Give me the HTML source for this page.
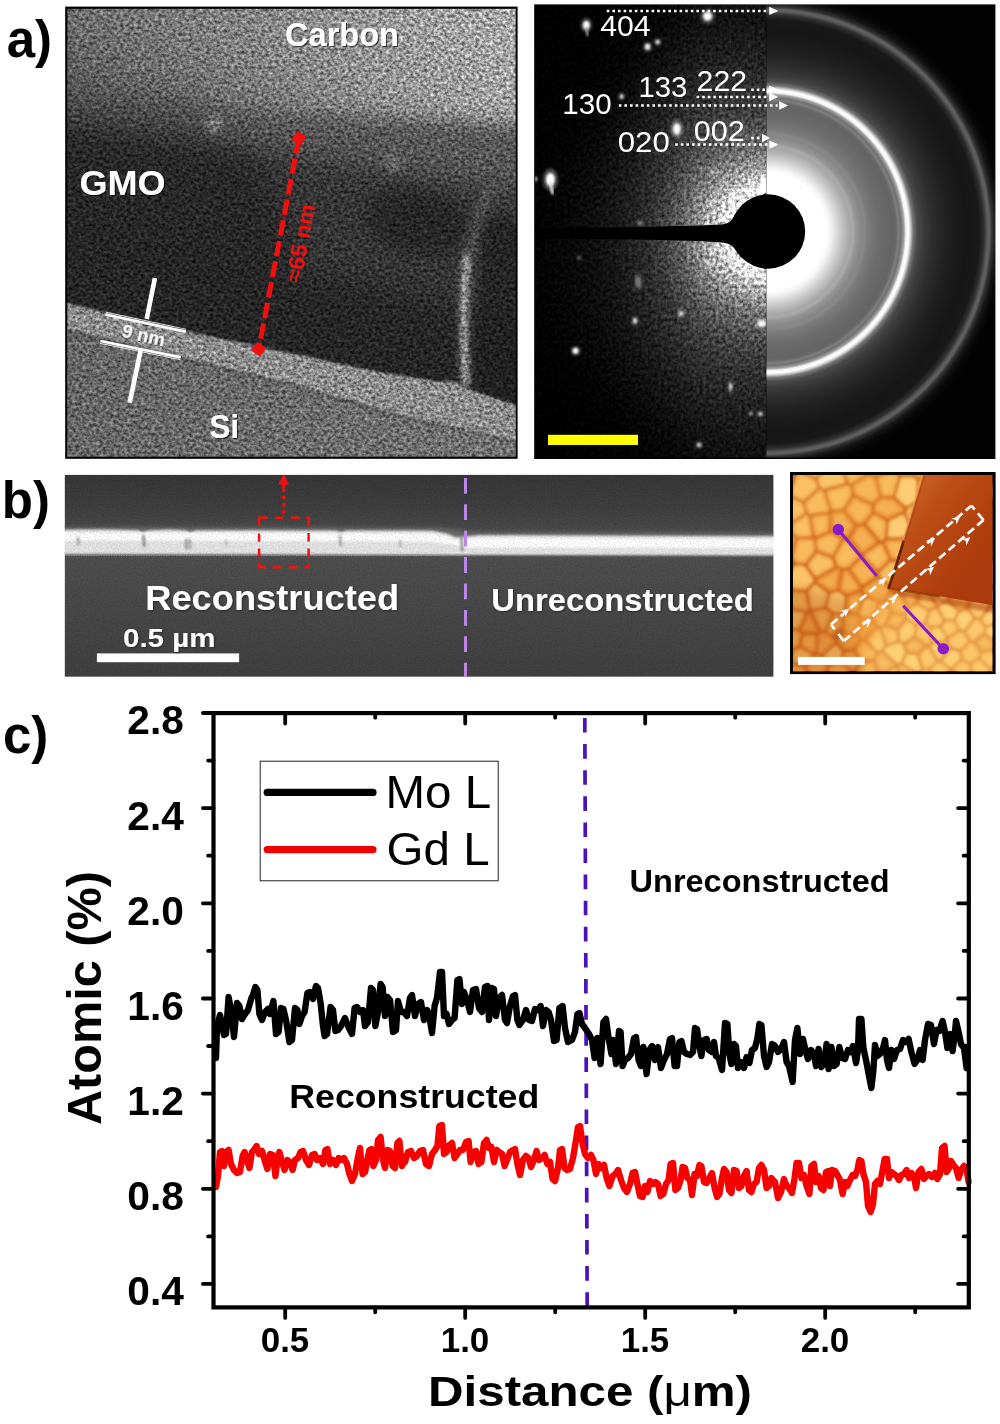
<!DOCTYPE html>
<html lang="en"><head><meta charset="utf-8"><title>Figure</title>
<style>html,body{margin:0;padding:0;background:#fff}body{width:1000px;height:1424px;overflow:hidden}svg text{white-space:pre}</style>
</head><body>
<svg width="1000" height="1424" viewBox="0 0 1000 1424" style="display:block">
<defs><clipPath id="temclip"><rect x="67.2" y="8.6" width="448.59999999999997" height="448.2"/></clipPath>
<filter id="temgrain" filterUnits="userSpaceOnUse" x="67.2" y="8.6" width="448.59999999999997" height="448.2" color-interpolation-filters="sRGB">
<feTurbulence type="fractalNoise" baseFrequency="0.29 0.33" numOctaves="3" seed="7" result="n"/>
<feColorMatrix in="n" type="matrix" values="1 0 0 0 0 1 0 0 0 0 1 0 0 0 0 0 0 0 0 1" result="g0"/><feGaussianBlur in="g0" stdDeviation="0.3" result="g"/>
<feComposite in="SourceGraphic" in2="g" operator="arithmetic" k1="1.32" k2="0.33999999999999997" k3="0.14" k4="-0.07"/>
</filter>
<filter id="tb0" filterUnits="userSpaceOnUse" x="0" y="-40" width="600" height="560" color-interpolation-filters="sRGB"><feGaussianBlur stdDeviation="0.8"/></filter>
<filter id="tb1" filterUnits="userSpaceOnUse" x="0" y="-40" width="600" height="560" color-interpolation-filters="sRGB"><feGaussianBlur stdDeviation="2.2"/></filter>
<filter id="tb2" filterUnits="userSpaceOnUse" x="0" y="-40" width="600" height="560" color-interpolation-filters="sRGB"><feGaussianBlur stdDeviation="4"/></filter>
<filter id="tb3" filterUnits="userSpaceOnUse" x="0" y="-40" width="600" height="560" color-interpolation-filters="sRGB"><feGaussianBlur stdDeviation="8"/></filter>
<filter id="tb4" filterUnits="userSpaceOnUse" x="0" y="-40" width="600" height="560" color-interpolation-filters="sRGB"><feGaussianBlur stdDeviation="14"/></filter>
<linearGradient id="carb" gradientUnits="userSpaceOnUse" x1="67" y1="0" x2="516" y2="0"><stop offset="0" stop-color="#6e6e6e"/><stop offset="0.4" stop-color="#868686"/><stop offset="0.75" stop-color="#9c9c9c"/><stop offset="1" stop-color="#a8a8a8"/></linearGradient>
<linearGradient id="carbshade" gradientUnits="userSpaceOnUse" x1="300" y1="0" x2="275" y2="130"><stop offset="0" stop-color="#000" stop-opacity="0"/><stop offset="0.5" stop-color="#000" stop-opacity="0.04"/><stop offset="1" stop-color="#000" stop-opacity="0.2"/></linearGradient>
<linearGradient id="sig" gradientUnits="userSpaceOnUse" x1="60" y1="380" x2="520" y2="460"><stop offset="0" stop-color="#666"/><stop offset="1" stop-color="#727272"/></linearGradient>
<filter id="tsh" x="-10%" y="-20%" width="120%" height="150%"><feDropShadow dx="1.1" dy="1.1" stdDeviation="0.7" flood-color="#000" flood-opacity="0.65"/></filter>
<clipPath id="dfl"><rect x="535.2" y="5.0" width="231.0" height="452.8"/></clipPath>
<clipPath id="dfr"><rect x="766.2" y="5.0" width="228.79999999999995" height="452.8"/></clipPath>
<filter id="dfgrain" filterUnits="userSpaceOnUse" x="535.2" y="5.0" width="231.0" height="452.8" color-interpolation-filters="sRGB">
<feTurbulence type="fractalNoise" baseFrequency="0.31 0.27" numOctaves="3" seed="11" result="n"/>
<feColorMatrix in="n" type="matrix" values="1 0 0 0 0 1 0 0 0 0 1 0 0 0 0 0 0 0 0 1" result="g0"/><feGaussianBlur in="g0" stdDeviation="0.3" result="g"/>
<feComposite in="SourceGraphic" in2="g" operator="arithmetic" k1="1.5" k2="0.25" k3="0.07" k4="-0.035"/>
</filter>
<linearGradient id="dleft" gradientUnits="userSpaceOnUse" x1="535" y1="0" x2="700" y2="0"><stop offset="0" stop-color="#000" stop-opacity="0.8"/><stop offset="0.45" stop-color="#000" stop-opacity="0.5"/><stop offset="1" stop-color="#000" stop-opacity="0"/></linearGradient>
<radialGradient id="dglow" gradientUnits="userSpaceOnUse" cx="767.0" cy="231.6" r="300"><stop offset="0.1267" stop-color="#ffffff"/><stop offset="0.1533" stop-color="#e4e4e4"/><stop offset="0.1867" stop-color="#b8b8b8"/><stop offset="0.2333" stop-color="#8e8e8e"/><stop offset="0.2833" stop-color="#6c6c6c"/><stop offset="0.3333" stop-color="#565656"/><stop offset="0.4000" stop-color="#404040"/><stop offset="0.4833" stop-color="#303030"/><stop offset="0.5833" stop-color="#212121"/><stop offset="0.7000" stop-color="#151515"/><stop offset="0.8500" stop-color="#0a0a0a"/><stop offset="1.0000" stop-color="#050505"/></radialGradient>
<radialGradient id="dring" gradientUnits="userSpaceOnUse" cx="767.0" cy="231.6" r="240"><stop offset="0.0000" stop-color="#000"/><stop offset="0.1583" stop-color="#fff"/><stop offset="0.2458" stop-color="#ffffff"/><stop offset="0.2667" stop-color="#f2f2f2"/><stop offset="0.2917" stop-color="#d8d8d8"/><stop offset="0.3208" stop-color="#bcbcbc"/><stop offset="0.3458" stop-color="#a6a6a6"/><stop offset="0.3583" stop-color="#a9a9a9"/><stop offset="0.3708" stop-color="#969696"/><stop offset="0.3958" stop-color="#868686"/><stop offset="0.4083" stop-color="#888888"/><stop offset="0.4208" stop-color="#7c7c7c"/><stop offset="0.4500" stop-color="#727272"/><stop offset="0.4708" stop-color="#6c6c6c"/><stop offset="0.5000" stop-color="#686868"/><stop offset="0.5250" stop-color="#646464"/><stop offset="0.5375" stop-color="#686868"/><stop offset="0.5479" stop-color="#7e7e7e"/><stop offset="0.5583" stop-color="#707070"/><stop offset="0.5708" stop-color="#a0a0a0"/><stop offset="0.5792" stop-color="#f4f4f4"/><stop offset="0.5896" stop-color="#ffffff"/><stop offset="0.5979" stop-color="#d0d0d0"/><stop offset="0.6083" stop-color="#787878"/><stop offset="0.6250" stop-color="#4c4c4c"/><stop offset="0.6500" stop-color="#3c3c3c"/><stop offset="0.6875" stop-color="#2e2e2e"/><stop offset="0.7500" stop-color="#202020"/><stop offset="0.8333" stop-color="#161616"/><stop offset="0.8833" stop-color="#181818"/><stop offset="0.9042" stop-color="#303030"/><stop offset="0.9187" stop-color="#5c5c5c"/><stop offset="0.9271" stop-color="#606060"/><stop offset="0.9375" stop-color="#343434"/><stop offset="0.9542" stop-color="#161616"/><stop offset="0.9750" stop-color="#080808"/><stop offset="1.0000" stop-color="#020202"/></radialGradient>
<filter id="sp1" x="-50%" y="-50%" width="200%" height="200%" color-interpolation-filters="sRGB"><feGaussianBlur stdDeviation="0.9"/></filter>
<filter id="sp2" x="-50%" y="-50%" width="200%" height="200%" color-interpolation-filters="sRGB"><feGaussianBlur stdDeviation="1.8"/></filter>
<filter id="sp3" x="-50%" y="-50%" width="200%" height="200%" color-interpolation-filters="sRGB"><feGaussianBlur stdDeviation="22"/></filter>
<clipPath id="semclip"><rect x="64.6" y="474.7" width="709.0" height="202.09999999999997"/></clipPath>
<filter id="semgrain" filterUnits="userSpaceOnUse" x="64.6" y="474.7" width="709.0" height="202.09999999999997" color-interpolation-filters="sRGB">
<feTurbulence type="fractalNoise" baseFrequency="0.61 0.67" numOctaves="2" seed="5" result="n"/>
<feColorMatrix in="n" type="matrix" values="1 0 0 0 0 1 0 0 0 0 1 0 0 0 0 0 0 0 0 1" result="g0"/>
<feComposite in="SourceGraphic" in2="g0" operator="arithmetic" k1="0.18" k2="0.91" k3="0.025" k4="-0.0125"/>
</filter>
<linearGradient id="semg" gradientUnits="userSpaceOnUse" x1="0" y1="474.7" x2="0" y2="676.8"><stop offset="0" stop-color="#363636"/><stop offset="0.12" stop-color="#3b3b3b"/><stop offset="0.22" stop-color="#424242"/><stop offset="0.3" stop-color="#4a4a4a"/><stop offset="0.41" stop-color="#4c4c4c"/><stop offset="0.6" stop-color="#484848"/><stop offset="1" stop-color="#3e3e3e"/></linearGradient>
<filter id="sb1" filterUnits="userSpaceOnUse" x="0" y="460" width="800" height="230" color-interpolation-filters="sRGB"><feGaussianBlur stdDeviation="1.0"/></filter>
<filter id="sb2" filterUnits="userSpaceOnUse" x="0" y="460" width="800" height="230" color-interpolation-filters="sRGB"><feGaussianBlur stdDeviation="2.2"/></filter>
<filter id="ssh" x="-10%" y="-20%" width="120%" height="150%"><feDropShadow dx="0.8" dy="0.8" stdDeviation="0.8" flood-color="#000" flood-opacity="0.5"/></filter>
<clipPath id="afmclip"><rect x="793.0" y="474.9" width="199.39999999999998" height="196.30000000000007"/></clipPath>
<filter id="ab1" filterUnits="userSpaceOnUse" x="770" y="450" width="250" height="250" color-interpolation-filters="sRGB"><feGaussianBlur stdDeviation="1.5"/></filter>
<filter id="ab2" filterUnits="userSpaceOnUse" x="770" y="450" width="250" height="250" color-interpolation-filters="sRGB"><feGaussianBlur stdDeviation="0.7"/></filter>
<filter id="ab3" filterUnits="userSpaceOnUse" x="770" y="450" width="250" height="250" color-interpolation-filters="sRGB"><feGaussianBlur stdDeviation="5"/></filter>
<linearGradient id="wedge" gradientUnits="userSpaceOnUse" x1="900" y1="500" x2="985" y2="560"><stop offset="0" stop-color="#ca6226"/><stop offset="0.3" stop-color="#bd4e16"/><stop offset="0.7" stop-color="#b3420f"/><stop offset="1" stop-color="#ab3a0c"/></linearGradient></defs>
<rect width="1000" height="1424" fill="#fff"/>
<rect x="65.2" y="6.6" width="452.4" height="452.2" fill="#000"/>
<g clip-path="url(#temclip)">
<g filter="url(#temgrain)">
<rect x="67.2" y="8.6" width="448.59999999999997" height="448.2" fill="url(#carb)"/>
<rect x="67.2" y="8.6" width="448.59999999999997" height="448.2" fill="url(#carbshade)"/>
<path d="M20 86 L66 91 L290 114 L560 127 L560 520 L20 520Z" fill="#585858" filter="url(#tb3)"/>
<path d="M20 90 L66 95 L200 108 L200 520 L20 520Z" fill="#4a4a4a" filter="url(#tb4)" opacity="0.8"/>
<path d="M20 116 L66 122 L290 152 L420 175 L560 196 L560 520 L20 520Z" fill="#363636" filter="url(#tb4)"/>
<ellipse cx="418" cy="222" rx="52" ry="32" fill="#181818" opacity="0.48" filter="url(#tb3)" transform="rotate(12 418 222)"/>
<path d="M10 118 L250 150 L300 250 L250 340 L10 300Z" fill="#1c1c1c" opacity="0.5" filter="url(#tb4)"/>
<path d="M20 205 L250 262 L400 292 L560 330 L560 520 L20 520Z" fill="#262626" filter="url(#tb4)" opacity="0.95"/>
<path d="M482 215 L560 228 L560 420 L476 395Z" fill="#202020" opacity="0.75" filter="url(#tb2)"/>
<path d="M40 296.5 L66 303 L185 331 L300 355 L376 371.6 L440 382 L452 381 L468 389 L515 405 L560 421 L560 520 L40 520Z" fill="#8c8c8c" filter="url(#tb0)"/>
<path d="M40 322 L66 328.5 L300 386 L400 414.8 L515 441 L560 451 L560 520 L40 520Z" fill="url(#sig)" filter="url(#tb0)"/>
<path d="M40 323.5 L66 330 L300 387.5 L400 416.3 L515 442.5 L560 452.5" fill="none" stroke="#3a3a3a" stroke-width="2.8" stroke-dasharray="2.5 2.5" filter="url(#tb0)" opacity="0.8"/>
<path d="M466 386 C463 340 462 300 467 262 C472 235 480 212 490 192" fill="none" stroke="#808080" stroke-width="12" stroke-linecap="round" filter="url(#tb2)" opacity="0.32"/>
<path d="M465.5 382 C463.5 345 463.5 305 466.5 258" fill="none" stroke="#b8b8b8" stroke-width="7.5" stroke-linecap="round" filter="url(#tb1)" opacity="0.7"/>
<circle cx="214" cy="124" r="7" fill="#9a9a9a" filter="url(#tb2)" opacity="0.8"/>
<circle cx="393" cy="163" r="7" fill="#8c8c8c" filter="url(#tb2)" opacity="0.7"/>
<circle cx="143" cy="100" r="4" fill="#777" filter="url(#tb1)" opacity="0.5"/>
</g>
<g fill="#fff" font-family="Liberation Sans, Arial, Helvetica, sans-serif" font-weight="700" filter="url(#tsh)">
<text x="285" y="45.6" font-size="33" textLength="114" lengthAdjust="spacingAndGlyphs">Carbon</text>
<text x="79.4" y="195" font-size="35" textLength="86" lengthAdjust="spacingAndGlyphs">GMO</text>
<text x="209.2" y="437.6" font-size="32.5" textLength="30" lengthAdjust="spacingAndGlyphs">Si</text>
</g>
<g stroke="#fff" fill="none">
<path d="M154.9 278 L146.7 319 M140.9 349 L129.7 402.8" stroke-width="4.6"/>
<path d="M105.4 314.5 L185.7 331.6 M100.4 341 L180.7 357.4" stroke-width="2.7"/>
<path d="M105.9 312.2 L186.2 329.3 M99.9 343.3 L180.2 359.7" stroke-width="0.9" opacity="0.9"/>
</g>
<text transform="translate(121 336.6) rotate(13.2)" fill="#fff" font-family="Liberation Sans, Arial, Helvetica, sans-serif" font-weight="700" font-size="18.4" textLength="43.5" lengthAdjust="spacingAndGlyphs" filter="url(#tsh)">9 nm</text>
<g fill="#f01010" stroke="none">
<path d="M298.9 138.3 L258.7 349.3" stroke="#f01010" stroke-width="5" stroke-dasharray="15.6 5.4" stroke-dashoffset="0.5" fill="none"/>
<rect x="293.5" y="132.9" width="10.8" height="10.8" transform="rotate(35 298.9 138.3)"/>
<rect x="253.29999999999998" y="343.90000000000003" width="10.8" height="10.8" transform="rotate(35 258.7 349.3)"/>
<text transform="translate(300.8 283.2) rotate(-79.2)" font-family="Liberation Sans, Arial, Helvetica, sans-serif" font-weight="700" font-size="22.5" textLength="79" lengthAdjust="spacingAndGlyphs">≈65 nm</text>
</g>
</g>
<rect x="534.2" y="4.4" width="461.2" height="454.6" fill="#000"/>
<g clip-path="url(#dfl)">
<g filter="url(#dfgrain)">
<rect x="535.2" y="5.0" width="231.0" height="452.8" fill="url(#dglow)"/>
<rect x="535.2" y="5.0" width="170" height="452.8" fill="url(#dleft)"/>
<path d="M520 -10 L690 -10 L600 130 L520 200Z" fill="#000" opacity="0.55" filter="url(#sp3)"/>
<path d="M520 470 L520 330 L600 380 L700 470Z" fill="#000" opacity="0.6" filter="url(#sp3)"/>
</g>
<ellipse cx="586.4" cy="25.2" rx="5.4" ry="7.1" fill="#fff" opacity="0.30" filter="url(#sp2)"/>
<ellipse cx="586.4" cy="25.2" rx="3.2" ry="4.2" fill="#fff" opacity="1" filter="url(#sp1)"/>
<ellipse cx="707.6" cy="16.3" rx="7.1" ry="7.1" fill="#fff" opacity="0.30" filter="url(#sp2)"/>
<ellipse cx="707.6" cy="16.3" rx="4.2" ry="4.2" fill="#fff" opacity="1" filter="url(#sp1)"/>
<ellipse cx="647.6" cy="46.8" rx="4.4" ry="5.1" fill="#fff" opacity="0.27" filter="url(#sp2)"/>
<ellipse cx="647.6" cy="46.8" rx="2.6" ry="3" fill="#fff" opacity="0.9" filter="url(#sp1)"/>
<ellipse cx="657.7" cy="42" rx="3.7" ry="3.7" fill="#fff" opacity="0.24" filter="url(#sp2)"/>
<ellipse cx="657.7" cy="42" rx="2.2" ry="2.2" fill="#fff" opacity="0.8" filter="url(#sp1)"/>
<ellipse cx="621.7" cy="96.5" rx="3.1" ry="3.7" fill="#fff" opacity="0.24" filter="url(#sp2)"/>
<ellipse cx="621.7" cy="96.5" rx="1.8" ry="2.2" fill="#fff" opacity="0.8" filter="url(#sp1)"/>
<ellipse cx="676.9" cy="129" rx="6.1" ry="9.5" fill="#fff" opacity="0.30" filter="url(#sp2)"/>
<ellipse cx="676.9" cy="129" rx="3.6" ry="5.6" fill="#fff" opacity="1" filter="url(#sp1)"/>
<ellipse cx="550.4" cy="179.5" rx="7.5" ry="11.2" fill="#fff" opacity="0.30" filter="url(#sp2)"/>
<ellipse cx="550.4" cy="179.5" rx="4.4" ry="6.6" fill="#fff" opacity="1" filter="url(#sp1)"/>
<ellipse cx="712.4" cy="172.3" rx="2.7" ry="2.7" fill="#fff" opacity="0.24" filter="url(#sp2)"/>
<ellipse cx="712.4" cy="172.3" rx="1.6" ry="1.6" fill="#fff" opacity="0.8" filter="url(#sp1)"/>
<ellipse cx="535.5" cy="179" rx="2.5" ry="3.4" fill="#fff" opacity="0.21" filter="url(#sp2)"/>
<ellipse cx="535.5" cy="179" rx="1.5" ry="2" fill="#fff" opacity="0.7" filter="url(#sp1)"/>
<ellipse cx="640" cy="223" rx="3.1" ry="3.1" fill="#fff" opacity="0.15" filter="url(#sp2)"/>
<ellipse cx="640" cy="223" rx="1.8" ry="1.8" fill="#fff" opacity="0.5" filter="url(#sp1)"/>
<ellipse cx="575.6" cy="350.8" rx="4.8" ry="4.8" fill="#fff" opacity="0.30" filter="url(#sp2)"/>
<ellipse cx="575.6" cy="350.8" rx="2.8" ry="2.8" fill="#fff" opacity="1" filter="url(#sp1)"/>
<ellipse cx="635" cy="320.8" rx="3.4" ry="4.8" fill="#fff" opacity="0.24" filter="url(#sp2)"/>
<ellipse cx="635" cy="320.8" rx="2" ry="2.8" fill="#fff" opacity="0.8" filter="url(#sp1)"/>
<ellipse cx="681" cy="313.6" rx="3.1" ry="4.1" fill="#fff" opacity="0.27" filter="url(#sp2)"/>
<ellipse cx="681" cy="313.6" rx="1.8" ry="2.4" fill="#fff" opacity="0.9" filter="url(#sp1)"/>
<ellipse cx="708" cy="263" rx="2.7" ry="3.7" fill="#fff" opacity="0.24" filter="url(#sp2)"/>
<ellipse cx="708" cy="263" rx="1.6" ry="2.2" fill="#fff" opacity="0.8" filter="url(#sp1)"/>
<ellipse cx="761.8" cy="323.7" rx="6.8" ry="5.1" fill="#fff" opacity="0.30" filter="url(#sp2)"/>
<ellipse cx="761.8" cy="323.7" rx="4" ry="3" fill="#fff" opacity="1" filter="url(#sp1)"/>
<ellipse cx="730.6" cy="386.8" rx="2.5" ry="6.8" fill="#fff" opacity="0.21" filter="url(#sp2)"/>
<ellipse cx="730.6" cy="386.8" rx="1.5" ry="4" fill="#fff" opacity="0.7" filter="url(#sp1)"/>
<ellipse cx="699" cy="445" rx="3.7" ry="3.7" fill="#fff" opacity="0.21" filter="url(#sp2)"/>
<ellipse cx="699" cy="445" rx="2.2" ry="2.2" fill="#fff" opacity="0.7" filter="url(#sp1)"/>
<ellipse cx="760.4" cy="414" rx="3.4" ry="3.1" fill="#fff" opacity="0.24" filter="url(#sp2)"/>
<ellipse cx="760.4" cy="414" rx="2" ry="1.8" fill="#fff" opacity="0.8" filter="url(#sp1)"/>
<ellipse cx="751" cy="413.4" rx="2.7" ry="2.4" fill="#fff" opacity="0.18" filter="url(#sp2)"/>
<ellipse cx="751" cy="413.4" rx="1.6" ry="1.4" fill="#fff" opacity="0.6" filter="url(#sp1)"/>
<ellipse cx="579" cy="258" rx="3.4" ry="3.4" fill="#fff" opacity="0.07" filter="url(#sp2)"/>
<ellipse cx="579" cy="258" rx="2" ry="2" fill="#fff" opacity="0.25" filter="url(#sp1)"/>
<ellipse cx="638" cy="282" rx="5.1" ry="10.2" fill="#fff" opacity="0.09" filter="url(#sp2)"/>
<ellipse cx="638" cy="282" rx="3" ry="6" fill="#fff" opacity="0.3" filter="url(#sp1)"/>
<path d="M550.4 183 L552.5 193" stroke="#ddd" stroke-width="3" stroke-linecap="round" filter="url(#sp1)"/>
<path d="M586.4 28 L587.5 35" stroke="#999" stroke-width="2.4" stroke-linecap="round" filter="url(#sp1)"/>
<path d="M757 196 L762 176 L767 178 L767 196Z" fill="#fff" filter="url(#sp1)"/>
<path d="M530 228 L640 227 L700 225.6 L722 224.4 C729 223.6 732 221 735 214 L770 190 L770 272 L737 252 C733 246 730 243.4 722 242.6 L700 241 L640 239.6 L530 238.6Z" fill="#000"/>
</g>
<g clip-path="url(#dfr)">
<rect x="766.2" y="5.0" width="228.79999999999995" height="452.8" fill="url(#dring)"/>
</g>
<circle cx="768" cy="231.5" r="37.2" fill="#000"/>
<rect x="548" y="434.8" width="90" height="10.2" fill="#ffff00"/>
<g fill="#fff" font-family="Liberation Sans, Arial, Helvetica, sans-serif" font-size="29.5">
<text x="600.2" y="36" textLength="50.5" lengthAdjust="spacingAndGlyphs">404</text>
<text x="638.4" y="97.2" textLength="49" lengthAdjust="spacingAndGlyphs">133</text>
<text x="696.6" y="90.7" textLength="50.5" lengthAdjust="spacingAndGlyphs">222</text>
<text x="562.3" y="114" textLength="49.4" lengthAdjust="spacingAndGlyphs">130</text>
<text x="617.8" y="152.4" textLength="52" lengthAdjust="spacingAndGlyphs">020</text>
<text x="693.7" y="141.1" textLength="51" lengthAdjust="spacingAndGlyphs">002</text>
</g>
<path d="M606.8 10.9H767.7" stroke="#fff" stroke-width="2.5" stroke-dasharray="2.6 3" fill="none"/>
<path d="M769.2 6.7L778.4 10.9L769.2 15.100000000000001Z" fill="#fff"/>
<path d="M751.2 89.8H767.7" stroke="#fff" stroke-width="2.5" stroke-dasharray="2.6 3" fill="none"/>
<path d="M769.2 85.6L778.4 89.8L769.2 94.0Z" fill="#fff"/>
<path d="M696.6 97.0H767.7" stroke="#fff" stroke-width="2.5" stroke-dasharray="2.6 3" fill="none"/>
<path d="M769.2 92.8L778.4 97.0L769.2 101.2Z" fill="#fff"/>
<path d="M618.8 105.5H777.7" stroke="#fff" stroke-width="2.5" stroke-dasharray="2.6 3" fill="none"/>
<path d="M779.2 101.3L788 105.5L779.2 109.7Z" fill="#fff"/>
<path d="M751.2 138.0H760.5" stroke="#fff" stroke-width="2.5" stroke-dasharray="2.6 3" fill="none"/>
<path d="M762 133.8L770 138.0L762 142.2Z" fill="#fff"/>
<path d="M675.2 144.6H767.9" stroke="#fff" stroke-width="2.5" stroke-dasharray="2.6 3" fill="none"/>
<path d="M769.4 140.4L778.4 144.6L769.4 148.79999999999998Z" fill="#fff"/>
<g clip-path="url(#semclip)">
<g filter="url(#semgrain)">
<rect x="64.6" y="474.7" width="709.0" height="202.09999999999997" fill="url(#semg)"/>
<path d="M50 527 L440 527.5 L470 532 L790 533 L790 545 L50 545Z" fill="#808080" filter="url(#sb2)" opacity="0.55"/>
<path d="M50 530.3 L80 529.6 L112 529.4 L138 530.2 L143 532.2 L148 530.4 L170 529.6 L186 530.6 L190.5 532.6 L195 530.6 L250 530.2 L300 530.4 L336 530.6 L341 532.4 L346 530.6 L400 530.4 L432 530.8 L447 533.4 L456 537.2 L465 536.4 L480 535 L600 535.6 L790 536.2 L790 555.6 L465 555 L50 554.2Z" fill="#dedede" filter="url(#sb1)"/>
<path d="M50 532.6 L432 533.4 L447 536.4 L456 540 L465 539 L480 538 L790 539 L790 548 L465 547.4 L455 545 L430 541.4 L50 540.6Z" fill="#f8f8f8" filter="url(#sb1)"/>
<path d="M78 538 l0.6 6" stroke="#6c6c6c" stroke-width="2.8" stroke-linecap="round" filter="url(#sb1)" opacity="0.5"/>
<path d="M143.6 536 l0.6 10" stroke="#6c6c6c" stroke-width="2.8" stroke-linecap="round" filter="url(#sb1)" opacity="0.75"/>
<path d="M186 540 l0.6 8" stroke="#6c6c6c" stroke-width="2.8" stroke-linecap="round" filter="url(#sb1)" opacity="0.6"/>
<path d="M189.5 540 l0.6 8" stroke="#6c6c6c" stroke-width="2.8" stroke-linecap="round" filter="url(#sb1)" opacity="0.5"/>
<path d="M226 541 l0.6 4" stroke="#6c6c6c" stroke-width="2.8" stroke-linecap="round" filter="url(#sb1)" opacity="0.3"/>
<path d="M340 536 l0.6 9" stroke="#6c6c6c" stroke-width="2.8" stroke-linecap="round" filter="url(#sb1)" opacity="0.55"/>
<path d="M400 541 l0.6 5" stroke="#6c6c6c" stroke-width="2.8" stroke-linecap="round" filter="url(#sb1)" opacity="0.35"/>
<path d="M461.5 537 l0.6 13" stroke="#6c6c6c" stroke-width="2.8" stroke-linecap="round" filter="url(#sb1)" opacity="0.7"/>
<path d="M66 555.2 H462" stroke="#9a9a9a" stroke-width="1.6" stroke-dasharray="1.2 1.3" opacity="0.8"/>
</g>
<path d="M465.5 477.9V677" stroke="#bb86e6" stroke-width="3" stroke-dasharray="15.8 10.6" fill="none"/>
<rect x="96.9" y="653.4" width="142.2" height="8.8" fill="#fff"/>
<g fill="#fff" font-family="Liberation Sans, Arial, Helvetica, sans-serif" font-weight="700" filter="url(#ssh)">
<text x="145.2" y="610.3" font-size="35" textLength="254" lengthAdjust="spacingAndGlyphs">Reconstructed</text>
<text x="491.2" y="611" font-size="30.5" textLength="262.5" lengthAdjust="spacingAndGlyphs">Unreconstructed</text>
<text x="123" y="646.5" font-size="25.5" textLength="92.5" lengthAdjust="spacingAndGlyphs">0.5 µm</text>
</g>
<g stroke="#f01212" fill="none">
<path d="M259.1 526 V517.7 H268 M275.6 517.7 H283 M290.6 517.7 H299.6 M306.2 517.7 H308.6 V526.5 M308.6 533 V541.6 M308.6 548.6 V557.4 M308.6 563.6 V567.2 H304.4 M297.8 567.2 H288.4 M281.6 567.2 H272.6 M266.2 567.2 H259.1 V562.6 M259.1 556.8 V548.6 M259.1 541.8 V533.6" stroke-width="2.5"/>
<path d="M283.8 517.2 V488.6" stroke-width="3.4" stroke-dasharray="3.4 3.8" stroke-dashoffset="3.6"/>
<path d="M283.8 488 V484" stroke-width="3.4"/>
<path d="M278.3 484.6 L283.8 473.8 L289.3 484.6Z" fill="#f01212" stroke="none"/>
</g>
</g>
<rect x="790" y="472" width="205.6" height="202.1" fill="#000"/>
<g clip-path="url(#afmclip)">
<rect x="793.0" y="474.9" width="199.39999999999998" height="196.30000000000007" fill="#cf661f"/>
<g filter="url(#ab1)">
<path d="M990.1 585.0L991.0 586.1L992.3 586.4L1010.1 584.4L1011.5 583.7L1012.2 582.0L1012.2 565.9L1011.5 564.2L994.7 559.1L984.5 563.7L982.7 567.1L982.7 568.4ZM858.3 641.1L858.4 638.8L855.7 636.0L844.6 634.6L843.3 635.0L838.4 638.7L837.5 640.5L838.0 642.6L843.7 649.2L845.3 649.9L853.2 649.0ZM855.7 613.7L857.3 613.5L858.4 612.3L863.5 597.6L863.5 596.2L861.8 593.3L860.3 592.2L858.9 592.2L848.5 596.0L847.2 597.7L846.0 609.5L846.2 610.9L847.7 612.1ZM875.2 627.9L875.8 626.6L875.6 625.2L871.2 619.5L861.5 618.0L860.0 619.6L857.7 634.5L861.1 638.4L864.4 638.7ZM980.5 650.1L982.8 651.2L991.5 649.4L994.3 643.9L994.1 641.9L985.9 635.8L983.4 635.8L976.9 640.7L976.2 641.9L976.4 643.6ZM817.5 578.5L816.3 580.2L816.9 582.2L828.6 591.1L830.1 591.4L836.4 589.9L838.0 588.3L840.7 570.4L839.5 569.0L837.7 568.1L836.3 568.2ZM875.1 659.1L874.9 660.8L878.3 669.4L882.4 671.8L884.3 671.7L893.6 666.8L894.6 665.6L894.1 663.2L882.2 652.5L880.8 652.4L878.2 653.5ZM881.9 673.9L877.8 672.4L876.7 672.9L866.1 682.9L865.7 684.4L866.2 688.5L867.2 690.2L868.6 690.6L884.0 690.6L886.0 689.6L886.4 687.8L882.7 675.0ZM914.7 474.4L915.4 476.4L917.6 478.4L919.0 478.8L934.4 475.4L935.2 474.0L937.9 458.1L937.3 456.2L935.5 455.3L919.6 455.3L918.1 455.8L917.2 457.4ZM917.0 563.9L915.6 562.4L910.6 561.3L905.9 563.7L900.3 583.4L900.5 584.7L901.4 585.8L902.7 586.2L919.4 586.2L922.5 584.4L922.9 582.3ZM989.3 531.7L991.1 531.1L991.9 529.4L991.1 506.7L989.1 505.3L978.1 505.6L975.1 508.8L974.7 510.2L979.1 529.3L980.8 530.7ZM833.4 512.2L832.0 512.9L831.3 514.3L831.4 531.3L832.4 532.3L842.9 538.2L847.9 537.5L854.6 526.9L854.5 524.8L843.6 511.3L842.2 511.1ZM811.3 614.8L809.4 613.4L807.1 614.4L801.0 627.8L801.0 629.8L803.3 632.5L816.0 632.6L817.8 631.3L818.0 629.5ZM1009.9 528.7L1011.3 528.0L1012.0 526.5L1012.0 513.0L1011.6 511.6L1010.3 510.7L996.7 506.5L994.7 506.9L993.6 508.9L994.2 527.9L994.6 529.2L996.7 530.3ZM893.4 613.5L892.0 613.6L890.8 614.6L887.2 622.3L887.2 623.7L888.5 625.3L897.0 627.6L898.2 626.9L904.4 619.8L904.8 617.8L903.3 616.1ZM916.4 652.6L918.1 652.2L923.0 647.8L923.8 645.7L923.0 644.3L916.1 639.0L914.3 638.5L906.1 643.4L905.2 645.7L906.8 650.2L907.8 651.2ZM902.7 588.6L900.7 589.7L900.4 591.7L908.2 605.3L909.1 606.0L910.6 606.1L915.6 603.6L916.3 602.3L918.2 591.4L917.7 589.5L916.1 588.6ZM775.4 537.4L774.2 538.2L773.7 539.5L773.7 548.4L774.3 549.7L788.6 555.3L790.8 554.8L791.5 553.6L795.7 539.4L795.2 537.2L791.4 533.3L789.8 532.8Z" fill="#ea9236"/>
<path d="M931.4 552.4L932.6 550.9L932.5 549.3L922.4 533.4L912.6 532.2L911.5 532.8L907.3 538.0L907.0 539.8L910.8 557.4L912.0 559.0L917.6 560.0ZM814.3 541.0L813.5 539.5L812.1 539.0L799.2 538.9L797.5 539.7L792.5 556.3L792.8 557.6L795.8 562.2L803.9 563.7L805.9 562.8L815.3 550.8ZM882.9 495.9L892.8 496.0L893.8 494.8L898.7 477.5L897.9 475.5L893.2 472.2L892.0 471.9L878.9 477.1L878.0 477.9L877.6 479.3L881.5 495.1ZM849.0 540.6L847.0 539.7L844.5 540.1L843.5 540.8L834.3 556.9L834.5 558.4L837.7 565.7L842.0 568.1L848.3 567.4L859.2 557.1L859.9 555.9L859.5 553.9ZM800.8 635.5L800.5 633.7L798.0 630.7L790.4 630.1L789.1 631.2L784.1 641.4L784.0 643.4L791.0 648.6L793.1 648.7L798.7 645.2ZM975.6 679.3L974.9 677.3L971.1 675.1L963.1 678.6L962.3 679.8L960.5 687.8L960.9 689.6L962.6 690.7L973.5 690.3L974.5 688.8ZM794.0 591.7L792.0 592.6L787.5 599.8L787.6 601.2L790.7 607.2L792.3 608.2L805.6 610.6L807.4 610.2L808.5 608.1L805.5 593.1L804.0 592.2ZM831.2 615.6L831.4 614.2L830.8 613.0L825.2 609.1L815.0 610.8L813.9 611.5L813.3 612.7L813.5 614.1L820.4 629.2L822.2 630.6L823.8 630.4L824.8 629.4ZM840.0 455.4L838.1 456.3L837.7 458.6L848.9 483.0L850.4 483.8L852.0 483.6L866.8 473.9L867.2 472.1L864.6 457.4L863.6 455.8L862.2 455.4ZM831.4 508.5L832.2 509.6L833.8 510.1L842.2 509.0L843.6 508.2L851.8 495.1L850.2 487.0L849.2 485.6L846.6 485.0L827.8 490.5L826.6 491.4L826.2 493.3ZM865.1 554.1L864.2 555.7L864.7 557.6L876.1 569.1L877.4 569.8L879.5 569.1L888.0 560.7L888.7 559.4L888.5 558.0L882.7 544.9L881.1 543.5L879.1 543.9ZM969.3 662.3L971.6 662.3L978.2 657.9L979.0 656.8L979.7 653.7L979.4 652.1L973.8 643.3L972.2 642.2L970.0 642.8L962.2 650.6L961.5 652.1L963.0 658.4ZM821.1 489.8L819.7 489.6L818.5 490.0L805.1 502.5L804.9 503.9L807.2 512.1L809.4 514.1L810.8 514.3L827.4 512.0L829.2 510.7L829.3 508.8L823.4 491.8ZM888.9 643.8L897.4 640.9L898.0 639.4L896.8 631.8L896.2 630.6L885.1 626.7L882.7 627.3L882.1 629.6L886.8 643.2ZM831.4 533.4L829.5 533.2L817.4 538.7L816.3 539.6L816.0 540.9L817.1 549.2L817.8 550.4L831.5 555.7L833.5 554.5L841.2 540.4L840.2 538.4ZM854.5 652.8L852.4 651.5L845.1 652.3L844.0 653.6L842.3 660.0L843.1 662.2L850.9 669.3L852.2 669.9L854.3 669.1L859.0 662.0L858.7 660.6ZM905.7 686.8L905.3 689.0L907.1 690.7L920.1 690.7L921.6 690.2L922.4 687.9L918.8 675.5L917.1 674.6L915.4 675.1ZM934.8 604.3L925.1 587.3L923.7 586.9L921.3 588.5L918.9 602.9L920.0 604.5L928.1 608.9L929.5 609.1L934.0 606.7ZM879.6 539.9L880.7 540.6L882.1 540.6L885.2 538.0L886.4 521.7L885.2 520.1L875.2 515.0L873.6 514.8L872.4 515.5L866.9 522.4L866.4 524.4ZM954.3 667.3L953.5 669.0L954.0 670.5L961.4 676.7L963.0 676.7L968.9 673.9L970.1 672.6L969.6 664.7L963.2 660.7L960.9 661.1Z" fill="#f3ac4c"/>
<path d="M957.4 509.3L959.6 510.4L971.8 508.1L975.3 504.4L975.3 502.6L969.0 487.6L967.7 486.3L956.4 485.1L950.8 487.7L949.8 488.9L948.1 494.3L948.3 495.7ZM994.8 532.6L993.2 533.5L992.7 535.0L995.5 556.6L996.9 557.7L1008.9 561.3L1010.7 561.1L1012.0 559.0L1011.7 532.0L1009.5 530.8ZM939.1 662.1L937.7 662.5L931.7 667.8L930.9 669.7L938.3 682.9L940.3 683.9L942.3 682.8L948.7 670.0L947.8 668.1L940.6 662.5ZM895.4 587.1L897.2 585.6L902.7 565.2L902.2 563.9L901.1 563.2L891.2 561.4L889.9 562.0L879.7 572.3L879.3 574.9L880.1 576.4L892.5 586.9ZM818.7 553.2L817.3 553.1L816.1 553.7L808.2 563.5L807.7 564.8L808.1 566.4L814.2 575.4L816.0 576.4L817.4 576.2L833.3 567.3L834.5 565.4L831.4 558.3ZM976.2 676.0L977.7 676.3L987.2 674.6L988.9 672.9L989.2 670.3L988.7 669.1L980.9 660.7L979.6 659.9L977.8 660.3L972.5 663.8L971.7 665.1L972.1 672.9ZM790.5 520.4L791.8 521.0L793.2 520.8L804.8 513.3L805.2 511.5L802.6 503.1L788.9 496.4L774.8 501.7L773.9 503.3L774.5 505.7ZM929.7 629.1L929.0 627.4L924.4 624.1L918.5 625.5L917.2 627.3L916.0 634.9L916.3 636.3L926.9 644.3L928.7 643.9L929.7 642.4ZM906.0 511.5L906.1 513.0L912.0 528.2L913.4 529.6L923.1 530.5L932.5 520.0L932.6 518.6L929.0 506.5L919.1 502.7L917.3 502.8L907.4 508.4ZM970.7 639.3L972.0 640.2L973.9 640.1L983.6 632.6L984.4 626.7L979.5 620.4L976.0 619.6L974.4 620.2L966.2 630.6L966.2 632.9ZM815.4 480.4L814.2 479.2L802.5 473.4L801.0 473.5L797.3 475.4L796.3 476.7L790.9 492.7L791.1 494.7L801.9 500.4L804.2 500.3L817.4 488.2L817.7 486.3ZM839.4 684.1L838.7 682.3L827.7 673.7L825.7 674.0L821.1 677.7L820.4 678.8L820.7 688.5L821.3 689.7L822.4 690.4L837.8 690.3L839.2 688.7ZM938.5 625.4L940.3 624.4L942.4 621.2L942.7 619.5L937.5 610.2L936.4 609.3L935.1 609.2L930.1 612.2L926.9 622.3L927.6 623.4L931.0 626.0ZM910.7 474.9L912.2 474.4L913.1 473.1L915.2 458.2L914.6 456.4L912.8 455.7L895.6 455.7L894.1 456.3L893.2 458.2L893.5 468.8L894.1 470.3L900.4 474.8ZM956.5 630.9L957.5 629.7L957.4 628.1L954.5 622.3L953.2 621.3L945.7 621.5L942.2 626.1L942.4 628.0L946.3 634.9L947.6 635.8L949.4 635.6ZM929.4 649.0L928.0 647.9L926.1 648.2L919.5 654.6L923.0 666.8L924.7 668.2L929.0 667.7L935.1 662.4L935.8 661.2L935.7 659.6ZM808.9 517.2L807.7 515.5L805.7 515.3L793.0 523.6L792.1 531.0L797.0 536.4L798.3 536.8L809.6 536.8L811.5 535.6L811.8 534.0ZM949.5 638.5L948.5 639.7L948.5 641.1L951.3 646.8L959.0 649.4L961.0 648.7L967.7 642.1L968.2 640.8L967.9 639.4L963.5 633.1L960.6 631.8L958.9 632.2ZM997.1 661.7L997.7 660.5L997.5 658.9L992.2 651.7L982.7 653.1L981.2 654.4L980.6 657.1L981.0 658.4L989.3 667.2L991.6 667.0Z" fill="#f6b456"/>
<path d="M964.6 584.3L965.1 586.6L972.5 594.6L973.9 595.3L983.4 594.7L988.9 587.4L988.7 586.0L982.2 571.5L980.4 570.1L978.8 570.4L967.0 577.2ZM897.4 690.6L899.2 689.8L899.8 687.8L897.1 670.7L896.0 669.2L894.4 668.9L886.0 673.2L885.1 674.2L885.0 675.6L889.2 689.7L890.8 690.6ZM943.4 640.0L944.9 638.9L945.2 637.1L940.3 628.4L938.4 627.7L933.3 628.2L932.1 628.8L931.4 630.5L931.4 639.8L932.1 641.2L934.1 641.9ZM932.9 644.3L931.2 645.5L931.2 647.6L937.6 658.3L938.7 659.0L940.4 658.9L948.4 648.6L948.4 647.0L946.7 643.3L945.6 642.2L944.3 641.9ZM966.1 549.5L967.2 547.6L967.4 539.7L966.9 538.4L954.2 532.6L952.4 533.6L940.7 550.2L940.3 551.8L940.8 553.1L945.6 557.8L951.2 558.8ZM995.5 622.7L997.0 621.3L999.4 612.7L999.4 611.3L997.9 609.8L992.0 607.7L990.6 607.8L989.5 608.7L982.8 618.1L982.5 620.3L985.3 624.3L986.6 625.0ZM943.6 659.2L943.1 660.8L943.8 662.4L949.3 666.7L951.4 666.9L960.0 658.9L960.3 657.5L959.4 653.2L957.8 651.8L952.2 650.1L950.8 650.3ZM915.8 670.9L918.6 671.0L920.2 669.7L920.8 668.4L917.1 656.3L915.6 655.1L907.5 654.4L906.5 655.3L903.7 661.3L903.8 663.4L904.7 664.4ZM962.1 629.8L963.5 629.8L964.5 629.2L972.6 618.7L972.2 616.7L968.2 611.1L967.0 610.4L959.8 612.3L956.2 619.5L956.2 621.0L960.0 628.4ZM841.1 612.5L842.7 612.0L843.5 610.6L844.9 597.7L844.6 596.3L838.1 591.8L830.9 593.4L829.8 595.0L827.4 605.8L827.6 607.4L833.8 612.2ZM879.3 625.6L882.7 624.7L883.7 623.9L889.1 612.3L888.9 610.7L885.2 604.5L883.7 603.5L881.1 603.8L880.0 604.6L873.4 617.8L873.8 619.6L877.8 624.9ZM885.0 648.9L884.4 650.4L885.0 652.0L897.0 663.0L898.7 663.6L900.4 662.8L905.0 652.5L901.8 644.3L899.9 643.2L898.4 643.2L887.2 646.6ZM936.2 690.4L938.1 689.5L938.5 687.2L929.2 671.3L927.3 670.3L922.8 670.9L921.1 672.4L920.7 673.9L925.1 689.3L926.9 690.4ZM929.6 584.4L928.2 585.5L928.1 587.6L936.9 603.2L939.3 603.8L946.5 600.0L950.1 591.0L949.4 588.6L939.5 581.5ZM803.1 469.6L803.4 471.0L804.4 472.0L814.2 476.8L816.1 476.8L832.3 459.5L832.6 457.1L831.7 456.1L830.4 455.7L805.4 455.8L804.0 457.6ZM915.8 501.2L917.0 499.1L917.1 481.4L916.7 480.1L913.0 477.1L901.5 477.3L900.3 478.8L895.6 495.5L895.8 497.4L904.7 505.6L905.9 506.2L907.5 505.9ZM934.8 517.9L936.2 519.5L948.7 523.3L950.3 523.3L951.5 522.3L955.7 513.3L955.9 511.8L946.7 498.2L944.4 498.1L932.1 505.8L931.8 507.4ZM940.5 605.5L939.4 606.7L939.4 608.3L945.1 618.5L946.5 619.1L952.5 619.1L954.2 618.3L957.1 612.6L956.4 610.2L947.7 602.6L946.1 602.6ZM890.1 520.2L888.7 522.0L887.7 535.3L888.0 536.6L889.1 537.6L904.5 537.3L909.9 531.1L910.0 529.1L905.0 516.1L904.0 514.9L902.0 514.7ZM783.8 599.1L785.7 598.2L790.0 591.5L790.2 589.3L784.1 578.4L782.5 577.9L775.5 578.3L774.1 580.2L774.3 597.8L776.1 599.2ZM995.0 639.7L996.8 640.1L998.3 639.2L1002.1 630.6L1001.5 628.7L998.1 625.1L996.8 624.5L987.4 627.2L986.5 628.3L985.9 631.6L986.7 633.8ZM837.7 646.0L836.1 645.2L834.6 645.5L824.3 655.3L824.2 657.6L828.5 663.7L830.0 663.9L838.9 661.0L840.3 659.8L842.2 651.8ZM860.0 613.1L860.1 614.9L861.4 616.2L869.6 617.5L871.0 617.2L871.9 616.2L877.3 605.6L877.2 603.4L876.3 602.5L867.8 598.7L865.6 598.9L864.6 600.1Z" fill="#fbc86e"/>
<path d="M880.1 630.4L878.7 628.9L876.4 629.2L867.9 638.0L867.3 639.4L867.9 641.3L876.5 650.1L877.9 650.8L881.6 649.6L884.7 645.3ZM810.7 606.8L811.7 608.4L813.2 608.8L823.3 607.0L825.0 605.2L827.4 594.5L827.2 592.9L816.0 584.4L813.8 585.0L808.2 591.7ZM945.1 495.4L946.1 494.2L947.7 489.0L947.5 487.1L935.9 477.4L934.3 477.2L920.7 480.0L919.1 481.2L918.7 498.9L919.9 501.0L928.8 504.1L930.2 504.2ZM985.2 560.9L992.5 557.1L992.9 555.8L990.4 536.3L989.7 534.8L988.3 534.2L978.7 533.2L970.7 538.0L970.2 539.3L969.9 547.9L970.7 549.7L983.6 560.9ZM936.6 474.5L937.3 476.6L948.3 485.6L950.2 485.8L954.6 483.6L955.4 481.9L956.4 457.8L955.8 456.1L954.0 455.3L941.6 455.3L940.1 456.1L939.5 457.3ZM843.8 483.5L845.2 482.3L845.4 480.4L837.3 462.1L835.5 460.7L833.3 461.5L818.0 477.9L817.4 479.2L820.1 486.9L823.7 489.0ZM804.2 615.5L804.3 613.7L802.9 612.2L791.4 610.4L790.1 611.3L785.2 620.0L785.0 621.9L789.6 627.2L797.5 628.1L799.0 627.0ZM801.1 648.4L799.1 648.3L793.5 651.6L792.9 652.9L792.5 660.4L794.0 662.1L804.5 665.0L805.8 664.2L811.3 656.8L811.7 654.9L810.7 653.4ZM1003.3 627.9L1005.0 628.7L1010.1 628.3L1011.4 627.7L1012.0 626.7L1012.1 609.9L1011.6 608.7L1010.5 607.9L1009.1 607.9L1003.1 610.2L1001.7 611.5L998.8 622.5L999.3 623.7ZM1010.4 605.3L1011.5 604.4L1011.9 603.0L1011.9 588.5L1010.4 586.5L991.4 588.5L990.3 589.3L985.8 595.2L986.0 597.3L990.5 604.6L991.6 605.4L1001.1 608.6ZM813.6 580.2L813.2 578.7L805.0 566.6L803.9 566.0L797.2 565.1L795.1 565.9L787.2 575.6L786.7 576.9L787.0 578.2L792.2 587.9L794.0 589.2L806.1 589.5L813.0 581.9Z" fill="#f8bc60"/>
<path d="M1000.9 661.7L999.3 662.2L991.7 669.5L991.0 672.7L991.3 674.0L992.4 674.9L1001.1 677.9L1011.3 673.3L1011.8 672.0L1011.8 664.4L1011.3 662.9L1010.0 662.0ZM912.8 636.3L914.0 634.7L914.9 625.9L908.5 621.5L906.6 621.4L899.1 629.9L900.5 640.4L902.0 641.8L903.8 641.9ZM907.1 617.7L908.1 619.0L916.3 624.0L923.0 622.7L924.6 621.4L927.5 613.1L927.6 611.6L926.4 610.2L918.1 605.6L916.5 605.5L909.0 609.3L906.6 615.2ZM987.7 607.3L987.9 604.8L983.3 597.6L982.0 597.2L975.3 597.5L973.2 598.7L969.6 608.3L970.0 609.7L975.2 616.7L979.1 617.8L980.8 617.0ZM988.0 679.7L987.4 677.9L985.9 677.2L979.7 678.2L978.5 678.8L977.8 680.0L976.9 687.6L977.6 689.6L979.3 690.3L985.5 690.3L986.9 689.6L987.6 688.2Z" fill="#f9c064"/>
<path d="M871.6 506.7L870.2 504.7L855.7 497.7L854.4 497.5L852.6 498.6L846.3 508.6L845.9 510.1L846.4 511.4L855.8 523.1L857.9 524.0L863.5 522.5L871.3 512.9L871.8 511.5ZM863.4 559.3L862.0 558.6L860.2 559.1L851.3 567.6L850.7 569.0L851.1 570.6L860.9 584.0L862.9 584.9L864.2 584.5L875.9 576.5L876.9 574.7L876.4 572.3ZM924.7 581.5L925.7 582.8L927.5 583.1L938.0 579.8L939.2 578.7L943.9 560.1L943.2 558.7L937.1 552.9L934.9 553.0L920.2 561.1L919.1 562.3L919.1 563.9ZM878.7 497.3L879.3 495.0L875.7 478.9L874.3 477.5L869.5 475.5L867.9 475.5L853.5 484.7L852.6 485.7L852.4 487.3L854.6 494.6L871.0 502.7L873.4 502.5ZM981.5 475.5L971.5 485.3L971.4 486.7L978.1 502.1L979.6 502.8L989.7 502.7L991.4 501.8L995.4 489.8L986.7 476.4L982.9 475.3ZM785.7 602.7L784.6 601.7L783.5 601.4L776.3 601.6L774.6 602.7L774.2 604.0L774.2 617.4L775.3 619.5L781.4 620.2L783.4 618.9L788.6 609.3ZM854.6 674.2L853.1 673.5L851.5 674.0L841.9 682.5L841.2 688.5L842.1 690.2L843.6 690.8L861.9 690.8L863.8 689.9L864.3 688.3L863.5 683.4ZM846.5 613.8L844.6 614.2L843.6 615.8L844.5 631.2L846.1 632.5L854.8 633.3L856.3 631.5L858.6 618.6L858.4 617.2L856.9 615.9Z" fill="#f0a040"/>
<path d="M907.3 609.7L907.1 607.6L897.2 590.2L895.6 589.2L893.2 589.7L886.1 601.3L886.3 602.7L890.9 610.2L892.2 611.1L903.9 614.1L905.7 613.3ZM886.8 518.3L888.7 518.4L902.8 511.9L903.8 510.6L904.1 508.7L903.4 507.4L893.6 498.6L881.4 498.0L874.3 504.7L874.3 510.9L875.3 512.3ZM952.6 524.5L952.4 526.2L954.2 529.9L968.1 536.3L969.9 536.0L976.2 532.1L977.1 530.8L973.0 512.2L971.4 510.5L958.4 512.9ZM864.5 526.2L862.5 525.4L856.8 526.9L850.4 538.0L850.9 539.6L860.7 551.9L862.5 552.8L864.0 552.3L876.1 543.4L877.1 541.6L876.5 539.9ZM953.5 589.5L952.0 590.7L948.9 598.9L949.2 601.2L959.1 610.0L960.5 610.0L967.0 608.1L971.5 597.6L971.1 595.5L963.0 587.1L961.6 587.1ZM949.9 526.1L934.6 521.7L933.5 522.5L925.7 531.0L925.3 532.6L934.8 548.7L937.0 549.8L938.8 548.8L951.2 531.1L951.7 529.6L950.9 527.1ZM947.9 560.7L946.4 561.0L945.4 562.3L941.2 578.3L941.4 580.1L951.9 587.9L961.7 585.3L962.9 583.8L964.5 578.0L964.2 576.4L951.8 561.7ZM862.1 662.9L860.5 663.9L856.0 670.3L855.7 671.9L856.4 673.1L863.1 679.9L865.0 680.4L866.2 679.8L875.0 671.5L875.7 669.4L873.3 662.9L872.1 661.8ZM817.1 655.3L815.7 655.2L814.5 656.0L807.2 665.9L806.8 667.4L809.2 673.6L818.7 676.4L825.7 671.4L826.9 666.3L821.4 657.1ZM957.6 480.3L957.9 481.7L959.3 482.7L968.6 483.4L979.0 473.9L979.3 471.7L974.1 457.6L973.2 456.4L971.9 456.0L960.9 456.0L959.0 457.0L958.5 458.3ZM835.3 640.5L834.4 638.7L825.1 632.6L821.5 632.5L820.1 633.0L818.2 635.2L817.0 651.5L817.4 653.1L820.5 654.6L822.5 654.2L834.7 642.7ZM942.7 686.7L942.7 689.0L944.3 690.2L956.8 690.0L958.1 688.3L959.9 679.9L959.6 678.5L953.1 672.7L950.6 672.5L949.6 673.5ZM883.0 600.7L884.5 599.7L889.9 590.8L890.3 589.2L889.4 587.8L879.1 579.0L877.8 578.6L876.6 578.9L863.2 588.2L863.0 590.7L866.4 595.8L879.0 601.4ZM999.9 643.2L998.3 643.1L996.8 644.3L994.6 649.4L994.9 651.4L1000.5 659.0L1009.2 659.5L1010.6 659.2L1011.7 657.4L1011.4 649.0ZM869.1 472.0L870.4 473.7L876.5 475.9L890.2 470.3L891.3 468.4L890.6 456.7L888.6 455.7L869.0 455.7L867.7 456.0L866.6 458.2ZM902.3 665.6L899.8 665.6L898.7 667.8L901.1 683.5L902.0 684.9L903.6 685.3L905.3 684.4L913.1 674.9L913.5 673.4L912.5 671.6ZM964.8 573.9L966.2 574.7L967.8 574.4L980.2 567.3L981.8 564.3L981.1 562.2L969.8 552.1L968.5 551.6L966.9 551.9L955.8 559.1L954.7 560.7L955.1 562.5ZM845.5 593.7L847.4 594.0L858.8 589.9L859.9 589.1L860.4 587.8L859.9 586.3L848.8 571.0L847.1 570.1L844.1 570.4L842.8 571.8L839.9 588.5L840.6 590.3Z" fill="#ee9a3c"/>
<path d="M841.9 663.5L839.7 663.0L830.1 666.1L828.9 667.3L828.3 670.0L829.2 672.1L839.0 679.9L840.3 680.4L842.1 679.8L849.2 673.5L849.8 672.0L849.2 670.3ZM814.3 534.5L815.4 536.2L817.2 536.5L828.7 530.9L829.2 516.7L828.3 514.7L826.5 514.3L813.7 516.1L812.0 517.0L811.6 518.9ZM804.8 668.9L803.4 667.5L792.0 664.2L790.7 664.7L786.3 668.9L785.6 670.8L786.2 672.3L795.2 682.3L797.3 683.0L798.7 682.3L806.0 674.6L806.2 673.0ZM812.0 652.0L814.1 652.1L815.5 650.6L816.3 636.1L814.3 634.7L804.1 634.9L802.8 636.5L801.1 644.4L801.3 645.8L802.4 647.0ZM842.0 616.7L841.4 615.2L840.2 614.5L835.1 614.3L833.8 614.8L826.6 629.6L826.6 631.0L827.4 632.2L835.2 637.3L837.2 637.0L842.6 632.4ZM890.9 557.4L892.4 558.7L904.2 561.1L907.6 559.5L908.1 557.5L904.7 541.7L903.8 540.3L902.3 539.8L887.8 540.3L885.4 541.6L885.0 543.9ZM818.5 688.4L817.7 679.1L816.6 678.2L809.6 676.1L808.2 676.3L798.6 686.0L798.1 687.3L798.3 689.0L800.3 690.5L817.0 690.3ZM865.1 641.1L862.8 640.4L861.1 641.0L855.6 650.2L855.7 651.6L860.0 659.5L861.8 660.7L872.3 659.1L873.3 658.3L875.7 653.5L875.2 651.5Z" fill="#f2a646"/>
</g>
<path d="M985.9 567.9L992.8 583.2L1009.0 581.3L1009.0 566.8L994.9 562.5L986.8 566.2ZM913.5 535.5L910.3 539.8L913.8 556.1L917.0 556.6L929.1 550.0L920.5 536.4ZM951.4 494.6L960.0 507.0L970.2 505.2L972.1 503.2L966.3 489.3L956.9 488.4L952.7 490.3ZM967.9 584.5L974.6 592.1L981.7 591.6L985.5 586.6L979.6 573.6L969.7 579.3ZM870.8 639.6L878.3 647.4L879.6 646.9L881.2 644.7L877.4 632.7ZM996.0 535.6L998.5 554.9L1008.8 557.9L1008.5 534.1ZM994.4 672.2L1001.0 674.4L1008.6 671.0L1008.6 665.2L1001.0 665.0L994.6 671.2ZM813.7 605.5L821.7 604.1L824.1 594.6L815.4 588.0L811.6 592.6ZM934.5 669.6L940.2 679.8L945.1 670.1L939.2 665.5ZM922.3 483.0L922.1 498.4L929.4 501.0L943.2 492.6L944.4 488.7L934.5 480.5ZM882.6 574.3L894.3 583.8L899.2 566.1L891.8 564.8ZM888.3 675.6L891.8 687.4L896.4 687.4L894.2 672.6ZM849.3 509.8L858.1 520.6L861.7 519.7L868.6 511.0L868.1 507.2L855.0 500.9ZM889.5 601.8L893.5 608.2L903.3 610.7L904.0 608.5L895.1 592.8ZM831.8 668.9L831.8 670.1L840.5 676.9L846.2 671.8L839.8 666.3ZM877.5 509.8L888.1 515.1L900.7 509.3L892.3 501.8L882.6 501.3L877.5 506.1ZM934.6 631.3L934.6 638.5L941.5 637.1L938.1 631.0ZM811.1 565.1L816.4 573.0L830.9 565.0L829.0 560.7L818.1 556.4ZM973.3 540.2L973.4 547.8L984.6 557.6L989.5 555.0L987.3 537.3L979.5 536.5ZM939.9 474.3L949.5 482.5L952.2 481.2L953.2 458.5L942.5 458.5ZM955.7 525.4L956.6 527.5L968.5 532.9L973.6 530.0L970.1 514.0L960.5 515.7ZM854.0 538.2L862.7 549.3L873.5 541.3L862.3 528.8L858.9 529.7ZM855.1 640.1L854.2 639.1L844.9 637.8L840.9 640.9L845.8 646.7L851.3 646.0ZM795.8 556.4L797.7 559.3L803.9 560.2L812.0 549.9L811.2 542.1L800.2 542.1ZM974.9 666.1L975.2 671.2L977.6 673.0L985.8 671.4L979.0 663.3ZM820.9 479.5L822.8 484.7L824.2 485.6L842.0 480.7L834.9 464.5ZM955.0 592.3L952.2 599.6L960.3 606.7L964.7 605.4L968.2 597.1L961.7 590.4ZM788.4 620.9L791.2 624.2L796.5 624.7L800.8 615.1L792.4 613.8ZM854.1 569.2L863.0 581.4L873.5 574.2L861.7 562.1ZM849.2 609.1L855.6 610.4L860.3 597.1L859.3 595.5L850.3 598.9ZM777.5 504.1L792.2 517.6L801.8 511.4L799.9 505.3L788.7 499.9ZM881.0 479.7L884.2 492.7L891.1 492.7L895.2 477.6L892.0 475.3ZM922.3 563.5L927.5 579.7L936.3 577.0L940.5 560.5L935.8 556.1ZM928.9 532.4L936.9 545.9L948.3 529.7L948.1 528.9L935.3 525.3ZM944.4 578.4L952.6 584.4L959.9 582.5L961.2 577.8L950.0 564.6L948.2 564.1ZM863.0 621.4L861.1 633.5L863.2 635.4L872.3 626.2L869.5 622.5ZM814.9 519.1L817.3 532.9L825.6 528.9L826.0 517.6ZM837.6 557.6L840.2 563.4L842.6 564.8L846.9 564.3L856.5 555.3L846.5 543.0L845.8 543.1ZM979.6 642.7L983.2 647.8L989.4 646.5L990.9 643.5L984.8 639.0ZM919.3 634.5L926.5 640.0L926.4 629.5L923.8 627.6L920.4 628.4ZM787.4 641.9L792.2 645.4L795.9 643.2L797.5 635.1L796.4 633.8L791.6 633.4ZM789.1 670.7L797.0 679.5L802.9 673.2L801.7 670.3L792.3 667.6ZM820.2 580.7L829.9 588.1L834.7 587.0L837.3 571.5ZM963.9 687.4L971.5 687.1L972.3 679.5L970.9 678.7L965.3 681.2ZM934.7 647.2L939.3 655.0L945.2 647.6L944.1 645.2ZM859.1 671.4L864.6 676.9L872.3 669.4L870.7 665.1L863.1 666.0ZM943.7 551.5L947.1 554.9L950.5 555.5L963.8 547.2L964.2 540.6L954.5 536.2ZM987.3 621.5L994.2 619.5L996.1 612.6L991.7 611.0L985.8 619.3ZM946.6 660.5L950.4 663.5L957.0 657.4L956.4 654.8L952.3 653.5ZM790.8 600.5L793.5 605.2L805.0 607.3L802.7 595.3L794.7 594.9ZM855.7 487.1L857.3 492.4L871.6 499.4L875.9 495.6L872.4 480.2L868.9 478.7ZM909.3 512.2L914.8 526.5L921.8 527.2L929.3 518.8L926.3 509.0L918.6 505.9L909.9 510.7ZM974.8 486.5L980.5 499.6L988.9 499.5L991.9 490.3L984.6 479.2L982.9 478.6ZM907.0 662.0L916.6 667.8L917.3 667.8L914.4 658.2L908.9 657.7ZM959.4 620.1L962.7 626.3L969.2 617.9L966.3 613.9L962.0 615.0ZM795.8 659.3L803.9 661.5L808.1 655.7L799.9 651.6L796.1 653.8ZM804.4 644.5L812.4 648.6L813.0 637.9L805.7 638.1ZM1002.2 622.1L1005.2 625.3L1008.8 625.2L1008.9 611.3L1004.6 613.2ZM830.7 605.8L834.9 609.0L840.5 609.3L841.6 598.1L837.5 595.3L832.8 596.3ZM816.8 613.7L822.7 626.5L828.0 614.9L824.4 612.5ZM841.3 458.6L851.2 480.3L864.0 471.9L861.5 458.6ZM878.2 660.0L880.9 667.2L883.2 668.6L890.9 664.6L881.0 655.8ZM879.8 622.2L881.2 621.8L885.8 611.7L882.8 606.8L876.8 618.2ZM903.5 638.3L910.9 633.5L911.6 627.5L907.8 624.9L902.5 630.9ZM869.3 687.4L882.9 687.4L879.8 676.6L878.1 675.9L868.9 684.7ZM888.0 650.4L898.2 659.8L901.6 652.4L899.3 646.5L888.9 649.4ZM1008.7 589.9L992.6 591.5L989.1 596.3L992.9 602.4L1001.1 605.3L1008.7 602.5ZM829.5 493.3L834.2 506.8L841.2 505.9L848.4 494.5L846.7 488.3ZM867.8 556.2L877.9 566.3L885.4 558.8L880.2 547.1ZM810.2 667.3L811.6 671.0L818.1 672.9L822.9 669.5L823.5 666.9L819.2 659.6L816.6 658.6ZM972.9 636.9L980.6 630.9L981.1 627.6L977.7 623.3L976.3 623.0L969.4 631.7ZM830.0 630.1L835.9 633.9L839.3 631.0L838.9 617.6L836.0 617.5ZM918.0 474.2L919.2 475.5L932.2 472.6L934.6 458.5L920.3 458.5ZM924.1 674.1L927.8 687.2L934.8 687.2L926.9 673.7ZM960.8 479.6L967.5 480.1L976.0 472.3L971.3 459.2L961.7 459.2ZM903.8 583.0L918.5 583.0L919.6 582.4L914.0 565.3L911.0 564.7L908.6 565.9ZM931.5 587.1L938.9 600.4L943.9 597.7L946.6 590.6L938.9 585.0ZM820.2 650.9L821.0 651.2L831.8 640.9L824.1 635.8L822.0 635.7L821.4 636.5ZM794.3 492.8L802.9 497.2L814.3 486.7L812.6 482.2L801.8 476.7L799.4 477.9ZM888.3 543.6L893.9 555.7L903.8 557.7L904.8 557.3L901.7 543.0ZM777.4 604.8L777.4 616.5L780.7 616.9L785.0 609.1L783.0 604.6ZM823.6 679.7L823.9 687.2L836.1 687.2L836.1 684.3L826.9 677.2ZM790.1 577.2L795.0 586.0L804.7 586.2L810.3 580.1L802.8 569.0L797.0 568.6ZM964.8 652.4L965.8 656.4L970.2 659.1L975.9 655.6L976.4 653.6L971.6 645.8ZM806.3 469.4L814.7 473.5L828.5 458.9L807.1 459.0ZM930.5 621.6L932.0 622.7L937.6 622.3L939.3 620.1L935.3 612.8L932.8 614.3ZM896.4 458.9L896.7 468.3L901.4 471.6L910.0 471.7L911.9 458.9ZM903.2 480.5L898.9 495.8L906.4 502.9L913.8 498.2L913.9 481.9L911.9 480.3ZM808.2 503.9L810.0 510.4L810.8 511.1L826.0 509.0L819.9 493.1ZM945.6 627.0L948.6 632.4L954.2 628.7L952.0 624.6L947.3 624.6ZM946.1 686.9L955.1 686.8L956.6 680.1L952.0 675.9ZM910.1 616.3L916.9 620.6L921.6 619.7L924.3 612.6L917.2 608.8L911.5 611.7ZM973.0 608.3L977.1 613.9L978.7 614.4L984.6 605.6L981.3 600.4L976.2 600.6ZM978.0 510.4L982.0 527.5L988.7 528.4L988.0 508.5L979.5 508.7ZM866.4 590.0L868.5 593.3L879.5 598.1L882.1 597.5L886.9 589.7L877.7 582.0ZM935.2 507.6L938.0 516.7L949.0 520.1L952.6 512.5L945.1 501.4ZM999.3 646.5L997.9 650.2L1002.2 655.9L1008.5 656.3L1008.2 651.0ZM942.8 607.9L947.3 615.9L951.8 615.9L953.6 612.0L946.7 605.9ZM885.7 630.3L889.2 640.4L894.6 638.5L893.8 633.1ZM891.0 534.3L903.0 534.1L906.8 529.8L902.3 518.1L891.8 523.2ZM834.5 515.2L834.6 529.8L843.6 534.9L846.0 534.5L851.3 526.0L841.9 514.3ZM809.1 617.8L804.2 628.6L804.8 629.3L814.4 629.4ZM777.3 581.4L777.5 596.0L783.1 595.9L786.9 590.0L782.0 581.1ZM844.5 687.6L861.0 687.6L860.5 684.9L852.9 677.0L844.9 684.1ZM870.0 458.9L872.4 471.0L876.4 472.5L888.0 467.7L887.5 458.9ZM925.7 664.8L927.6 664.6L932.4 660.5L927.2 651.6L923.1 655.5ZM902.1 669.2L903.9 681.0L909.9 673.8ZM989.5 630.0L989.4 631.8L996.0 636.5L998.7 630.4L996.4 627.9ZM958.3 561.3L966.8 571.3L977.8 565.0L978.3 564.0L968.1 554.9ZM801.9 687.2L815.1 687.1L814.6 681.0L809.5 679.4ZM827.5 656.7L830.1 660.5L837.3 658.1L838.7 652.5L835.8 648.8ZM996.9 509.9L997.4 527.0L1008.8 525.6L1008.8 513.6ZM819.2 541.3L820.2 547.9L831.1 552.2L837.5 540.5L830.0 536.5ZM858.9 650.8L862.6 657.4L870.8 656.1L872.3 653.1L863.1 643.8ZM846.9 655.4L845.8 660.3L852.3 666.3L855.5 661.4L852.1 655.1ZM806.0 519.0L796.0 525.5L795.4 529.9L798.8 533.6L808.5 533.6ZM951.9 640.7L953.6 644.2L959.0 646.0L964.8 640.5L961.4 635.7L960.2 635.2ZM890.6 622.6L896.4 624.1L901.0 618.8L893.3 616.8ZM909.5 648.3L916.2 649.4L920.1 646.1L914.7 642.0L908.6 645.6ZM904.2 591.8L910.3 602.6L913.2 601.2L914.9 591.8ZM909.3 687.5L919.0 687.5L916.4 678.9ZM980.2 687.1L984.5 687.1L984.8 680.6L980.9 681.2ZM922.2 602.1L928.9 605.8L931.2 604.5L924.0 591.8ZM863.4 613.2L869.3 614.2L874.0 605.0L867.3 602.0ZM776.9 540.3L776.9 547.3L788.7 551.9L792.4 539.3L789.7 536.2ZM983.9 656.9L990.4 663.7L994.3 659.9L990.8 655.2L984.1 656.2ZM870.0 523.6L881.4 537.0L882.1 536.4L883.1 522.6L874.3 518.2ZM846.9 617.1L847.6 629.4L853.3 629.9L855.3 618.8ZM957.1 669.0L962.5 673.4L966.9 671.4L966.5 666.5L962.5 664.0ZM845.7 573.4L843.2 588.3L847.2 590.7L856.7 587.3L846.6 573.5Z" fill="#ffd27a" opacity="0.38" filter="url(#ab1)"/>
<path d="M892 597 L1000 615 L1000 680 L862 680 L874 632Z" fill="#ffd778" opacity="0.42" filter="url(#ab3)"/>
<path d="M785 585 L846 598 L866 680 L785 680Z" fill="#b04a0c" opacity="0.3" filter="url(#ab3)"/>
<path d="M785 470 L900 470 L880 520 L785 540Z" fill="#ffd070" opacity="0.12" filter="url(#ab3)"/>
<path d="M889 586 L868 598 L842 629 L852 649 L872 641 L897 603Z" fill="#ee9c3e" opacity="0.6" filter="url(#ab3)"/>
<ellipse cx="838" cy="633" rx="7" ry="4" fill="#a84810" opacity="0.55" filter="url(#ab1)" transform="rotate(-40 838 633)"/>
<path d="M924.2 470 L1000 470 L1000 606.3 L888.2 587.8Z" fill="url(#wedge)" filter="url(#ab2)"/>
<path d="M888.2 587.8 L1000 606.3 L1000 614 L893 594.5Z" fill="#a8400e" opacity="0.55" filter="url(#ab1)"/>
<path d="M888.6 588 L895.4 568 L903.4 542" stroke="#5a1c04" stroke-width="2.6" stroke-linecap="round" fill="none" filter="url(#ab2)" opacity="0.9"/>
<path d="M903.4 540 L924.2 470" stroke="#e8a058" stroke-width="1.8" fill="none" filter="url(#ab2)" opacity="0.8"/>
<path d="M905 540 L926.2 470" stroke="#a84410" stroke-width="2" fill="none" filter="url(#ab2)" opacity="0.6"/>
<path d="M889.4 588.2 L940 596.6" stroke="#8a3408" stroke-width="2.2" fill="none" filter="url(#ab2)" opacity="0.7"/>
</g>
<g stroke="#8a1cc8" stroke-width="3.1" fill="#8a1cc8">
<path d="M838.3 529.5 L876.8 576 M903.2 605.8 L943.3 648.7" fill="none"/>
<circle cx="838.3" cy="529.5" r="4.2"/><circle cx="943.3" cy="648.7" r="4.2"/>
</g>
<g stroke="#fff" stroke-width="2.7" fill="none">
<path d="M831 624.5L971.4 505.7" stroke-dasharray="8.4 4.2"/>
<path d="M843.8 641L983.5 520" stroke-dasharray="8.4 4.2"/>
<path d="M831 624.5L843.8 641" stroke-dasharray="6 6 20"/>
<path d="M971.4 505.7L983.5 520" stroke-dasharray="5 5 20"/>
</g>
<path d="M-4.2 -3.9L4.4 0L-4.2 3.9L-1.6 0Z" fill="#fff" transform="translate(846.0 611.3) rotate(-40.2)"/>
<path d="M-4.2 -3.9L4.4 0L-4.2 3.9L-1.6 0Z" fill="#fff" transform="translate(883.4 580.5) rotate(-40.2)"/>
<path d="M-4.2 -3.9L4.4 0L-4.2 3.9L-1.6 0Z" fill="#fff" transform="translate(931.8 540.9) rotate(-40.2)"/>
<path d="M-4.2 -3.9L4.4 0L-4.2 3.9L-1.6 0Z" fill="#fff" transform="translate(957.1 518.9) rotate(-40.2)"/>
<path d="M-4.2 -3.9L4.4 0L-4.2 3.9L-1.6 0Z" fill="#fff" transform="translate(868.0 622.3) rotate(-40.2)"/>
<path d="M-4.2 -3.9L4.4 0L-4.2 3.9L-1.6 0Z" fill="#fff" transform="translate(893.3 599.2) rotate(-40.2)"/>
<path d="M-4.2 -3.9L4.4 0L-4.2 3.9L-1.6 0Z" fill="#fff" transform="translate(930.7 569.5) rotate(-40.2)"/>
<path d="M-4.2 -3.9L4.4 0L-4.2 3.9L-1.6 0Z" fill="#fff" transform="translate(967.0 539.8) rotate(-40.2)"/>
<rect x="798" y="656.9" width="66.7" height="8" fill="#fff"/>
<text x="6.7" y="57.2" font-family="Liberation Sans, Arial, Helvetica, sans-serif" font-weight="700" font-size="51">a)</text>
<text x="1.8" y="518.2" font-family="Liberation Sans, Arial, Helvetica, sans-serif" font-weight="700" font-size="51">b)</text>
<text x="3" y="753" font-family="Liberation Sans, Arial, Helvetica, sans-serif" font-weight="700" font-size="51">c)</text>
<g id="chart">
<line x1="584.8" y1="718" x2="587.2" y2="1307.4" stroke="#4a12b8" stroke-width="3.7" stroke-dasharray="14.6 11.5"/>
<path d="M216.0 1058.0 L217.0 1026.0 L220.0 1015.0 L224.0 1035.0 L226.0 1034.0 L228.6 997.0 L231.0 1010.0 L234.0 1037.0 L237.0 1003.0 L239.4 1006.0 L242.0 1019.0 L245.0 1014.0 L248.0 1010.0 L251.4 998.0 L253.0 995.0 L255.4 987.0 L257.4 990.0 L259.4 1014.0 L262.0 1020.0 L265.0 1012.0 L268.0 1009.0 L270.0 1014.0 L273.4 1001.0 L276.0 1034.0 L278.6 1032.0 L281.0 1008.0 L283.4 1009.0 L286.0 1020.0 L289.4 1042.0 L292.0 1040.0 L295.0 1008.0 L297.4 1010.0 L299.4 1024.0 L302.0 1016.0 L304.6 1012.0 L307.4 993.0 L310.0 992.0 L313.0 999.0 L316.0 986.0 L318.0 988.0 L320.6 1003.0 L323.0 1026.0 L324.6 1036.0 L327.0 1034.0 L330.6 1007.0 L333.0 1010.0 L335.4 1031.0 L338.0 1030.0 L341.0 1026.0 L345.0 1018.0 L348.0 1026.0 L352.0 1034.0 L354.6 1008.0 L357.0 1007.0 L360.0 1012.0 L363.0 1010.0 L365.0 1026.0 L368.0 1022.0 L371.0 988.0 L373.0 990.0 L375.4 1026.0 L378.0 1012.0 L380.6 984.0 L382.6 987.0 L385.0 1016.0 L387.4 997.0 L390.0 1000.0 L393.0 1032.0 L396.0 1030.0 L398.0 1001.0 L401.0 1012.0 L404.0 1012.0 L407.0 1016.0 L410.0 998.0 L412.0 995.0 L415.0 1016.0 L418.0 1004.0 L421.0 1002.0 L424.0 1020.0 L427.0 1010.0 L429.0 1014.0 L432.0 1033.0 L434.6 1006.0 L437.0 998.0 L440.0 972.0 L442.0 972.0 L444.0 1016.0 L446.6 1014.0 L449.0 1024.0 L452.0 1020.0 L454.6 1018.0 L457.4 980.0 L459.4 979.0 L462.0 1004.0 L464.0 992.0 L467.0 1000.0 L470.0 1012.0 L473.0 990.0 L476.0 989.0 L479.0 1008.0 L482.0 1012.0 L485.0 987.0 L487.4 986.0 L489.0 1020.0 L492.0 988.0 L494.0 989.0 L496.0 1016.0 L499.0 998.0 L502.0 995.0 L505.0 1020.0 L507.0 1023.0 L510.0 1006.0 L513.0 996.0 L515.0 995.0 L517.4 1020.0 L519.4 1025.0 L523.0 1020.0 L526.0 1010.0 L529.0 1020.0 L532.0 1021.0 L535.0 1009.0 L538.0 1010.0 L540.6 1006.0 L543.0 1026.0 L546.0 1010.0 L548.6 1012.0 L551.0 1020.0 L554.0 1041.0 L556.6 1040.0 L559.4 1008.0 L562.6 1006.0 L565.0 1028.0 L568.0 1042.0 L572.0 1040.0 L575.0 1032.0 L577.4 1014.0 L579.4 1013.0 L582.0 1024.0 L585.0 1028.0 L589.0 1034.0 L592.0 1040.0 L594.6 1058.0 L597.4 1038.0 L600.6 1064.0 L603.4 1022.0 L606.0 1019.0 L608.6 1038.0 L611.4 1054.0 L613.4 1040.0 L616.0 1064.0 L619.0 1031.0 L620.6 1032.0 L622.6 1066.0 L625.0 1060.0 L628.0 1058.0 L631.0 1054.0 L634.0 1038.0 L636.0 1037.0 L638.6 1060.0 L641.0 1066.0 L643.4 1047.0 L646.6 1074.0 L649.4 1050.0 L652.0 1046.0 L655.0 1060.0 L658.0 1047.0 L661.0 1068.0 L664.0 1060.0 L667.0 1054.0 L670.0 1039.0 L672.0 1038.0 L674.6 1066.0 L677.0 1066.0 L679.4 1042.0 L681.4 1041.0 L684.0 1052.0 L687.0 1054.0 L690.0 1055.0 L693.0 1052.0 L695.0 1028.0 L697.0 1029.0 L699.4 1046.0 L701.4 1056.0 L704.0 1040.0 L706.6 1039.0 L709.0 1050.0 L712.0 1052.0 L714.0 1042.0 L716.0 1056.0 L718.6 1058.0 L722.0 1070.0 L725.0 1023.0 L727.4 1024.0 L729.4 1054.0 L731.4 1064.0 L734.0 1044.0 L736.0 1046.0 L738.0 1068.0 L741.0 1062.0 L744.0 1068.0 L746.6 1057.0 L749.4 1063.0 L752.0 1050.0 L755.0 1048.0 L757.4 1038.0 L759.4 1024.0 L761.4 1025.0 L764.0 1056.0 L766.6 1067.0 L769.0 1062.0 L772.0 1044.0 L774.0 1045.0 L775.0 1046.0 L778.0 1052.0 L781.0 1049.0 L784.0 1042.0 L786.6 1062.0 L789.0 1066.0 L792.6 1082.0 L795.0 1040.0 L797.4 1028.0 L800.0 1054.0 L803.0 1039.0 L805.4 1050.0 L808.0 1059.0 L811.0 1050.0 L814.0 1054.0 L816.0 1066.0 L818.6 1049.0 L821.4 1067.0 L824.0 1064.0 L826.6 1044.0 L828.6 1069.0 L831.4 1047.0 L834.0 1066.0 L836.6 1064.0 L839.4 1047.0 L842.0 1058.0 L845.0 1059.0 L848.0 1050.0 L850.6 1052.0 L853.0 1046.0 L856.0 1063.0 L858.0 1050.0 L859.0 1019.0 L861.4 1019.0 L863.4 1048.0 L866.0 1060.0 L868.6 1074.0 L871.4 1088.0 L873.4 1070.0 L875.0 1045.0 L877.4 1056.0 L880.0 1054.0 L883.0 1048.0 L885.0 1040.0 L887.0 1060.0 L889.0 1068.0 L891.4 1050.0 L894.0 1059.0 L897.0 1050.0 L900.0 1049.0 L903.0 1040.0 L906.0 1042.0 L908.6 1039.0 L911.4 1052.0 L914.6 1064.0 L917.4 1060.0 L920.0 1050.0 L922.6 1060.0 L925.0 1040.0 L928.0 1024.0 L931.0 1025.0 L934.0 1044.0 L936.6 1030.0 L939.4 1031.0 L942.6 1021.0 L945.0 1032.0 L947.4 1048.0 L950.0 1034.0 L952.6 1051.0 L955.0 1032.0 L956.0 1021.0 L958.6 1032.0 L961.0 1044.0 L964.0 1048.0 L966.6 1068.0" fill="none" stroke="#000" stroke-width="6.4" stroke-linejoin="round" stroke-linecap="round"/>
<path d="M216.0 1187.0 L218.0 1176.0 L220.0 1152.0 L222.0 1151.0 L224.0 1166.0 L226.0 1152.0 L228.6 1150.0 L231.0 1164.0 L234.0 1170.0 L237.0 1173.0 L240.0 1172.0 L242.6 1156.0 L244.6 1152.0 L247.0 1160.0 L249.4 1168.0 L252.0 1152.0 L254.0 1150.0 L256.6 1146.0 L259.0 1154.0 L262.0 1151.0 L264.6 1160.0 L267.4 1169.0 L270.0 1154.0 L273.0 1155.0 L275.4 1176.0 L277.4 1160.0 L279.4 1152.0 L282.0 1162.0 L284.6 1170.0 L287.4 1160.0 L290.0 1162.0 L292.6 1170.0 L295.0 1160.0 L298.0 1158.0 L300.6 1152.0 L303.0 1151.0 L306.0 1160.0 L309.0 1165.0 L312.0 1155.0 L314.6 1154.0 L317.0 1160.0 L320.0 1158.0 L323.0 1164.0 L325.4 1150.0 L327.4 1149.0 L330.0 1164.0 L333.0 1160.0 L336.0 1165.0 L338.6 1158.0 L341.0 1160.0 L344.0 1158.0 L347.0 1164.0 L349.4 1174.0 L352.0 1181.0 L355.0 1174.0 L357.4 1160.0 L360.0 1148.0 L362.6 1174.0 L365.0 1172.0 L367.4 1160.0 L369.4 1150.0 L371.4 1149.0 L373.4 1166.0 L376.0 1160.0 L378.0 1140.0 L380.6 1137.0 L383.0 1160.0 L385.0 1168.0 L387.4 1150.0 L390.0 1151.0 L392.6 1166.0 L395.0 1168.0 L397.4 1143.0 L399.4 1141.0 L402.0 1166.0 L402.6 1164.0 L405.0 1162.0 L408.0 1152.0 L411.0 1151.0 L414.0 1158.0 L417.0 1156.0 L420.0 1151.0 L423.0 1150.0 L426.0 1164.0 L429.0 1166.0 L432.0 1154.0 L435.0 1150.0 L437.4 1146.0 L439.4 1126.0 L442.0 1125.0 L444.0 1154.0 L446.6 1152.0 L449.4 1145.0 L452.0 1143.0 L454.6 1158.0 L457.4 1154.0 L460.0 1150.0 L463.0 1150.0 L466.0 1142.0 L468.6 1141.0 L470.6 1162.0 L473.4 1152.0 L476.0 1151.0 L478.6 1164.0 L481.4 1162.0 L484.0 1143.0 L486.6 1140.0 L489.0 1148.0 L491.4 1147.0 L494.0 1162.0 L496.6 1150.0 L499.0 1152.0 L502.0 1154.0 L504.6 1166.0 L507.0 1160.0 L510.0 1152.0 L513.0 1150.0 L515.0 1149.0 L517.4 1164.0 L520.0 1175.0 L523.0 1160.0 L526.0 1156.0 L528.6 1158.0 L531.0 1167.0 L534.0 1160.0 L536.6 1151.0 L539.0 1160.0 L542.0 1158.0 L544.6 1155.0 L547.4 1164.0 L550.0 1162.0 L552.6 1179.0 L555.0 1181.0 L558.0 1168.0 L560.0 1150.0 L562.0 1149.0 L564.6 1168.0 L567.0 1170.0 L570.0 1169.0 L573.0 1158.0 L576.0 1140.0 L578.0 1127.0 L580.0 1126.0 L582.6 1144.0 L585.0 1154.0 L588.0 1158.0 L591.0 1155.0 L593.4 1160.0 L596.0 1174.0 L598.6 1164.0 L601.4 1168.0 L604.0 1165.0 L606.6 1178.0 L609.4 1186.0 L612.6 1176.0 L615.4 1174.0 L618.0 1170.0 L621.0 1180.0 L624.0 1188.0 L627.0 1192.0 L630.0 1184.0 L632.6 1173.0 L635.0 1172.0 L637.4 1184.0 L640.0 1196.0 L642.6 1197.0 L645.0 1186.0 L647.4 1192.0 L650.0 1181.0 L653.0 1184.0 L655.4 1182.0 L658.0 1184.0 L660.6 1196.0 L663.4 1194.0 L666.0 1184.0 L668.6 1180.0 L670.6 1164.0 L673.0 1163.0 L675.4 1190.0 L678.0 1188.0 L680.6 1180.0 L682.6 1167.0 L685.0 1168.0 L687.4 1178.0 L690.0 1180.0 L692.0 1195.0 L694.6 1174.0 L697.0 1176.0 L699.4 1165.0 L701.4 1166.0 L704.0 1182.0 L706.6 1183.0 L709.4 1178.0 L712.0 1173.0 L714.6 1188.0 L717.0 1197.0 L719.4 1194.0 L722.0 1178.0 L724.0 1169.0 L726.6 1172.0 L729.0 1190.0 L731.4 1193.0 L734.0 1170.0 L736.6 1171.0 L739.0 1188.0 L741.4 1186.0 L744.0 1176.0 L746.6 1171.0 L749.0 1190.0 L751.4 1192.0 L754.0 1184.0 L756.6 1182.0 L759.0 1168.0 L761.4 1165.0 L764.0 1170.0 L766.6 1188.0 L769.0 1186.0 L771.4 1178.0 L774.0 1181.0 L775.0 1182.0 L778.0 1198.0 L781.0 1192.0 L784.0 1179.0 L786.6 1186.0 L789.0 1188.0 L792.0 1193.0 L794.6 1178.0 L796.6 1163.0 L799.0 1163.0 L801.4 1178.0 L804.0 1175.0 L806.6 1186.0 L809.4 1194.0 L811.4 1166.0 L814.0 1164.0 L816.0 1182.0 L818.6 1176.0 L821.0 1188.0 L823.4 1190.0 L826.0 1172.0 L828.0 1171.0 L830.0 1186.0 L832.0 1170.0 L835.0 1171.0 L837.4 1175.0 L840.0 1180.0 L842.6 1194.0 L845.0 1182.0 L847.4 1186.0 L850.0 1180.0 L852.6 1175.0 L855.0 1176.0 L857.4 1170.0 L859.4 1160.0 L861.4 1161.0 L863.4 1174.0 L866.0 1182.0 L868.0 1206.0 L870.6 1212.0 L873.0 1204.0 L875.0 1184.0 L877.4 1181.0 L880.0 1184.0 L882.6 1170.0 L884.6 1159.0 L887.0 1159.0 L889.0 1178.0 L891.4 1172.0 L894.0 1174.0 L896.6 1176.0 L899.0 1180.0 L901.4 1175.0 L904.0 1174.0 L906.6 1170.0 L909.0 1178.0 L911.4 1173.0 L914.0 1176.0 L916.0 1188.0 L918.6 1172.0 L921.4 1169.0 L924.0 1179.0 L926.6 1176.0 L929.0 1174.0 L932.0 1177.0 L935.0 1173.0 L937.4 1179.0 L940.0 1174.0 L942.0 1148.0 L944.6 1146.0 L946.6 1172.0 L949.0 1168.0 L951.0 1161.0 L953.4 1165.0 L956.0 1168.0 L958.6 1178.0 L961.0 1170.0 L964.0 1166.0 L966.6 1170.0 L968.6 1182.0" fill="none" stroke="#f80000" stroke-width="6.4" stroke-linejoin="round" stroke-linecap="round"/>
<rect x="213.5" y="713.1" width="755.3" height="594.3000000000001" fill="none" stroke="#000" stroke-width="4.2"/>
<path d="M213.5 1283.9H202.9 M968.8 1283.9H958.1 M213.5 1236.4H208.1 M968.8 1236.4H963.6 M213.5 1188.8H202.9 M968.8 1188.8H958.1 M213.5 1141.2H208.1 M968.8 1141.2H963.6 M213.5 1093.6H202.9 M968.8 1093.6H958.1 M213.5 1046.0H208.1 M968.8 1046.0H963.6 M213.5 998.5H202.9 M968.8 998.5H958.1 M213.5 950.9H208.1 M968.8 950.9H963.6 M213.5 903.3H202.9 M968.8 903.3H958.1 M213.5 855.7H208.1 M968.8 855.7H963.6 M213.5 808.1H202.9 M968.8 808.1H958.1 M213.5 760.6H208.1 M968.8 760.6H963.6 M213.5 713.0H202.9 M285.2 1307.4V1317.9 M285.2 713.1V723.5 M375.2 1307.4V1312.3 M375.2 713.1V717.7 M465.2 1307.4V1317.9 M465.2 713.1V723.5 M555.2 1307.4V1312.3 M555.2 713.1V717.7 M645.2 1307.4V1317.9 M645.2 713.1V723.5 M735.2 1307.4V1312.3 M735.2 713.1V717.7 M825.2 1307.4V1317.9 M825.2 713.1V723.5 M915.2 1307.4V1312.3 M915.2 713.1V717.7" stroke="#000" stroke-width="3.8" stroke-linecap="round" fill="none"/>
<text x="127.3" y="734.4" font-family="Liberation Sans, Arial, Helvetica, sans-serif" font-weight="700" font-size="40.6" textLength="56.6" lengthAdjust="spacingAndGlyphs">2.8</text>
<text x="127.3" y="829.5" font-family="Liberation Sans, Arial, Helvetica, sans-serif" font-weight="700" font-size="40.6" textLength="56.6" lengthAdjust="spacingAndGlyphs">2.4</text>
<text x="127.3" y="924.7" font-family="Liberation Sans, Arial, Helvetica, sans-serif" font-weight="700" font-size="40.6" textLength="56.6" lengthAdjust="spacingAndGlyphs">2.0</text>
<text x="127.3" y="1019.9" font-family="Liberation Sans, Arial, Helvetica, sans-serif" font-weight="700" font-size="40.6" textLength="56.6" lengthAdjust="spacingAndGlyphs">1.6</text>
<text x="127.3" y="1115.0" font-family="Liberation Sans, Arial, Helvetica, sans-serif" font-weight="700" font-size="40.6" textLength="56.6" lengthAdjust="spacingAndGlyphs">1.2</text>
<text x="127.3" y="1210.2" font-family="Liberation Sans, Arial, Helvetica, sans-serif" font-weight="700" font-size="40.6" textLength="56.6" lengthAdjust="spacingAndGlyphs">0.8</text>
<text x="127.3" y="1305.3" font-family="Liberation Sans, Arial, Helvetica, sans-serif" font-weight="700" font-size="40.6" textLength="56.6" lengthAdjust="spacingAndGlyphs">0.4</text>
<text x="260.7" y="1351.6" font-family="Liberation Sans, Arial, Helvetica, sans-serif" font-weight="700" font-size="35" textLength="48.6" lengthAdjust="spacingAndGlyphs">0.5</text>
<text x="440.7" y="1351.6" font-family="Liberation Sans, Arial, Helvetica, sans-serif" font-weight="700" font-size="35" textLength="48.6" lengthAdjust="spacingAndGlyphs">1.0</text>
<text x="620.7" y="1351.6" font-family="Liberation Sans, Arial, Helvetica, sans-serif" font-weight="700" font-size="35" textLength="48.6" lengthAdjust="spacingAndGlyphs">1.5</text>
<text x="800.7" y="1351.6" font-family="Liberation Sans, Arial, Helvetica, sans-serif" font-weight="700" font-size="35" textLength="48.6" lengthAdjust="spacingAndGlyphs">2.0</text>
<text x="428" y="1406" font-family="Liberation Sans, Arial, Helvetica, sans-serif" font-weight="700" font-size="42.5" textLength="324" lengthAdjust="spacingAndGlyphs">Distance (<tspan font-weight="400">μ</tspan>m)</text>
<text transform="translate(100.6 1125) rotate(-90)" font-family="Liberation Sans, Arial, Helvetica, sans-serif" font-weight="700" font-size="48" textLength="254" lengthAdjust="spacingAndGlyphs">Atomic (%)</text>
<rect x="260.2" y="761.2" width="238" height="119.6" fill="#fff" stroke="#222" stroke-width="1"/>
<path d="M267.2 792.4H373" stroke="#000" stroke-width="7.2" stroke-linecap="round"/>
<path d="M267.2 849.6H373" stroke="#f00000" stroke-width="7.2" stroke-linecap="round"/>
<text x="385.6" y="807.6" font-family="Liberation Sans, Arial, Helvetica, sans-serif" font-size="45.3" textLength="105.5" lengthAdjust="spacingAndGlyphs">Mo L</text>
<text x="386.6" y="864.8" font-family="Liberation Sans, Arial, Helvetica, sans-serif" font-size="45.3" textLength="103" lengthAdjust="spacingAndGlyphs">Gd L</text>
<text x="629.6" y="892" font-family="Liberation Sans, Arial, Helvetica, sans-serif" font-weight="700" font-size="30.5" textLength="260" lengthAdjust="spacingAndGlyphs">Unreconstructed</text>
<text x="289.3" y="1108" font-family="Liberation Sans, Arial, Helvetica, sans-serif" font-weight="700" font-size="32.6" textLength="250" lengthAdjust="spacingAndGlyphs">Reconstructed</text>
</g>
</svg>
</body></html>
